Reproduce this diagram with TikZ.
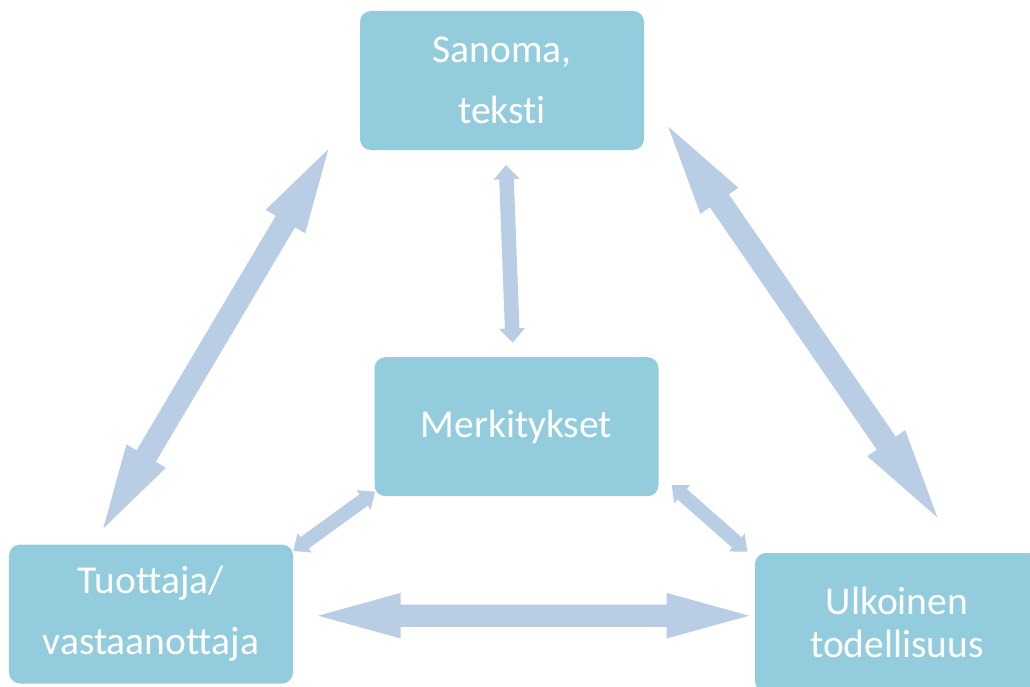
\documentclass[tikz,border=0pt]{standalone}
\usepackage{fontspec}
\setmainfont[Ligatures=NoCommon]{Carlito}
\usetikzlibrary{calc}

\definecolor{laatikkosin}{HTML}{93CDDD}
\definecolor{nuolisin}{HTML}{B9CDE5}

\tikzset{
  laatikko/.style={rectangle, rounded corners=11bp, fill=laatikkosin, text=white,
    align=center, inner sep=0pt, minimum width=284bp, minimum height=139bp,
    font=\fontsize{39.5bp}{61bp}\selectfont},
  nuoli/.style={fill=nuolisin}
}

% kaksipainen nuoli: alku, loppu, varren puolileveys, karjen puolileveys, karjen pituus
\newcommand{\kaksinuoli}[5]{%
  \fill[nuoli] let \p1=(#1), \p2=(#2), \n1={atan2(\y2-\y1,\x2-\x1)} in
    (\p1) -- ($(\p1)+(\n1:#5)+(\n1+90:#4)$) -- ($(\p1)+(\n1:#5)+(\n1+90:#3)$)
    -- ($(\p2)+(\n1+180:#5)+(\n1+90:#3)$) -- ($(\p2)+(\n1+180:#5)+(\n1+90:#4)$)
    -- (\p2) -- ($(\p2)+(\n1+180:#5)+(\n1-90:#4)$) -- ($(\p2)+(\n1+180:#5)+(\n1-90:#3)$)
    -- ($(\p1)+(\n1:#5)+(\n1-90:#3)$) -- ($(\p1)+(\n1:#5)+(\n1-90:#4)$) -- cycle;}

\begin{document}
\begin{tikzpicture}[x=1bp,y=-1bp]
  \clip (0,0) rectangle (1030,687);
  \node[laatikko] (sanoma) at (502,80.5) {Sanoma,\\teksti};
  \node[laatikko] (merk) at (516.5,426.7) {Merkitykset};
  \node[laatikko] (tuottaja) at (151,614) {Tuottaja/\\vastaanottaja};
  \node[laatikko, font=\fontsize{39.5bp}{43bp}\selectfont] (ulko) at (897,622.5) {Ulkoinen\\todellisuus};

  \coordinate (sanoma-v) at (328.3,149.3);
  \coordinate (sanoma-o) at (668.3,126.7);
  \coordinate (sanoma-a) at (506,165);
  \coordinate (merk-y) at (512.7,342.7);
  \coordinate (merk-v) at (375,491.7);
  \coordinate (merk-o) at (671.7,485);
  \coordinate (tuottaja-y) at (103.3,528.3);
  \coordinate (tuottaja-o) at (318.3,615.7);
  \coordinate (tuottaja-k) at (293.3,551);
  \coordinate (ulko-y) at (937.3,517.3);
  \coordinate (ulko-v) at (749,615.7);
  \coordinate (ulko-k) at (747.3,551.7);

  \kaksinuoli{tuottaja-y}{sanoma-v}{11.2bp}{23bp}{84bp}
  \kaksinuoli{sanoma-o}{ulko-y}{11.5bp}{23bp}{90bp}
  \kaksinuoli{tuottaja-o}{ulko-v}{11.2bp}{22.8bp}{82.4bp}
  \kaksinuoli{sanoma-a}{merk-y}{7.3bp}{13bp}{14.3bp}
  \kaksinuoli{merk-v}{tuottaja-k}{7bp}{12bp}{14bp}
  \kaksinuoli{merk-o}{ulko-k}{7bp}{12bp}{14bp}
\end{tikzpicture}
\end{document}
